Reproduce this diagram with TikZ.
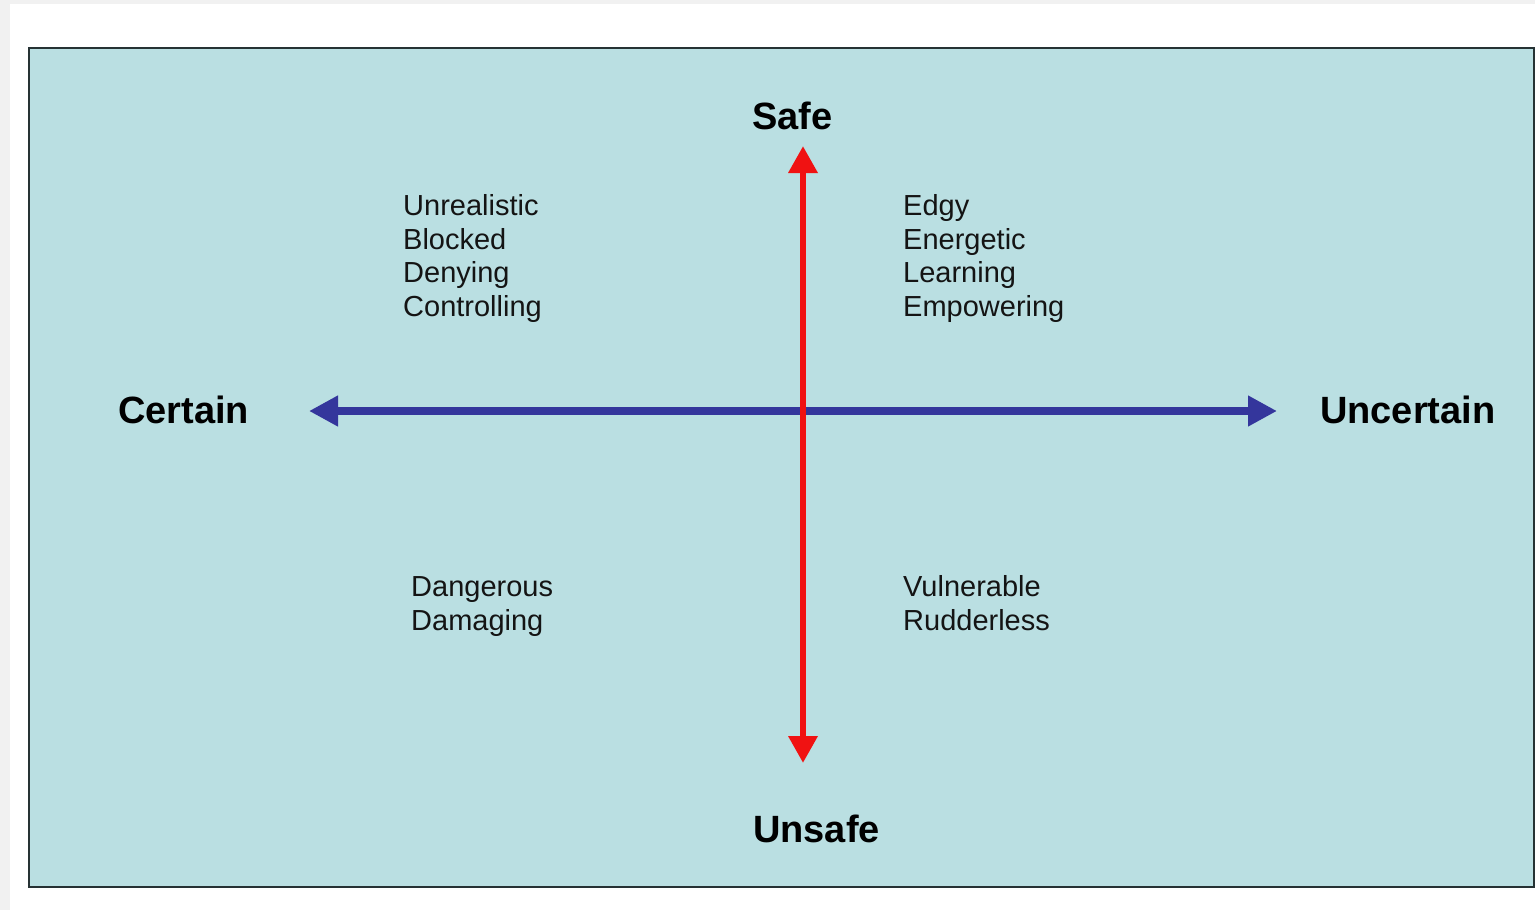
\documentclass[tikz,border=0pt]{standalone}
\usepackage{fontspec}
\setmainfont{Liberation Sans}
\usetikzlibrary{arrows.meta}
\definecolor{pagegray}{RGB}{241,241,241}
\definecolor{panel}{RGB}{186,223,226}
\definecolor{frame}{RGB}{38,50,52}
\definecolor{axisred}{RGB}{240,18,18}
\definecolor{axisblue}{RGB}{52,54,156}
\definecolor{txt}{RGB}{20,20,20}
\tikzset{
  axislabel/.style={anchor=base west, inner sep=0pt, text=black, font=\fontsize{38}{40}\selectfont\bfseries},
  quadtext/.style={anchor=base west, inner sep=0pt, align=left, text=txt, font=\fontsize{29}{33.5}\selectfont},
  redaxis/.style={draw=axisred, line width=6.5pt, {Triangle[width=28pt,length=27pt]}-{Triangle[width=28pt,length=27pt]}},
  blueaxis/.style={draw=axisblue, line width=8.5pt, {Triangle[width=29pt,length=29pt]}-{Triangle[width=29pt,length=29pt]}}
}
\begin{document}
\begin{tikzpicture}[x=1pt,y=-1pt]
\useasboundingbox (0,0) rectangle (1535,910);
\fill[pagegray] (0,0) rectangle (1535,910);
\fill[white] (10,4) rectangle (1535,910);
\draw[frame, line width=2.5pt, fill=panel] (29,48) rectangle (1534,887);

\coordinate (vtop) at (803,146);
\coordinate (vbot) at (803,763);
\coordinate (hleft) at (309,411);
\coordinate (hright) at (1277,411);

\draw[blueaxis] (hleft) -- (hright);
\draw[redaxis] (vtop) -- (vbot);

\node[axislabel] (safe) at (752,129) {Safe};
\node[axislabel] (unsafe) at (753,842) {Unsafe};
\node[axislabel] (certain) at (118,423) {Certain};
\node[axislabel] (uncertain) at (1320,423) {Uncertain};

% multi-line nodes: base anchor is the last line
\node[quadtext] (ul) at (403,316) {Unrealistic\\Blocked\\Denying\\Controlling};
\node[quadtext] (ur) at (903,316) {Edgy\\Energetic\\Learning\\Empowering};
\node[quadtext] (ll) at (411,630) {Dangerous\\Damaging};
\node[quadtext] (lr) at (903,630) {Vulnerable\\Rudderless};
\end{tikzpicture}
\end{document}
